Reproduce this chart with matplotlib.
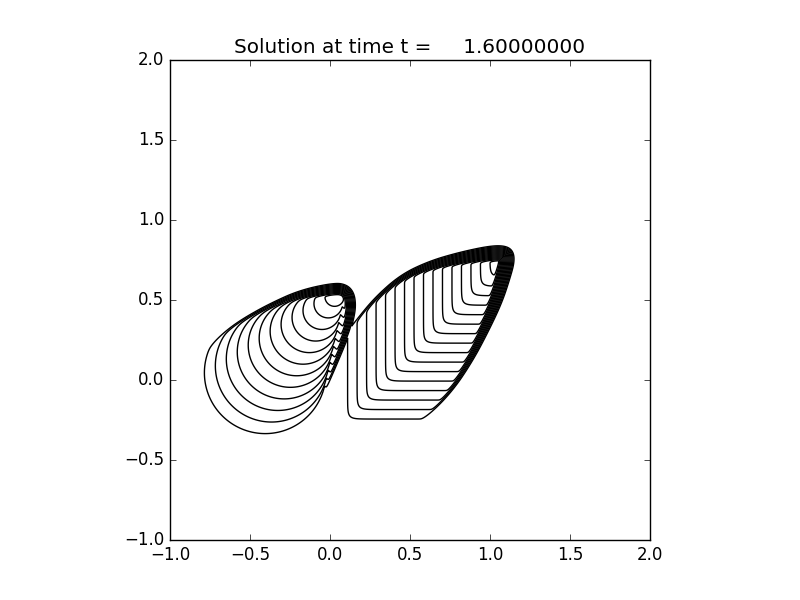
import numpy as np
import matplotlib
matplotlib.use("Agg")
import matplotlib.pyplot as plt

plt.style.use("classic")

# ---------------- chart text / axes ----------------
title_text = "Solution at time t =     1.60000000"
x_limits = (-1.0, 2.0)
y_limits = (-1.0, 2.0)
tick_values = [-1.0, -0.5, 0.0, 0.5, 1.0, 1.5, 2.0]
contour_levels = list(range(1, 17))

# ---------------- left lobe (deformed cone) ----------------
cone_apex = (0.11, 0.61)          # apex of the wedge the contours shrink into
cone_outer_center = (-0.405, 0.045) # outermost contour: circle centre
cone_outer_radius = 0.38
cone_level_step = 0.0585          # distance along the wedge per level
cone_cap = 12.5
left_edge_x = [-0.20, -0.08, 0.12, 0.155, 0.168, 0.155, 0.11, 0.03, -0.19, -0.375, -0.53, -0.64, -0.74, -0.84]
left_edge_y = [-0.45, -0.20, 0.26, 0.38, 0.47, 0.55, 0.60, 0.615, 0.568, 0.485, 0.40, 0.325, 0.235, 0.11]

# ---------------- right lobe (deformed square) ----------------
square_corner = (0.11, -0.244)    # outer contour's vertical / horizontal sides
square_step = (0.0593, 0.0593)    # spacing of successive contour sides
right_edge_x = [0.45, 0.606, 0.77, 0.90, 1.00, 1.08, 1.13, 1.16, 1.15, 1.10, 1.00, 0.81, 0.62, 0.44, 0.28, 0.16, 0.06]
right_edge_y = [-0.33, -0.24, -0.075, 0.12, 0.31, 0.48, 0.63, 0.74, 0.81, 0.845, 0.845, 0.805, 0.75, 0.665, 0.525, 0.38, 0.25]

edge_sharpness = 160.0   # levels per unit distance across the steep edges
corner_softness = 0.4


def chaikin(px, py, n):
    P = np.column_stack([px, py]).astype(float)
    for _ in range(n):
        Q = 0.75 * P[:-1] + 0.25 * P[1:]
        R = 0.25 * P[:-1] + 0.75 * P[1:]
        new = np.empty((2 * len(Q), 2))
        new[0::2] = Q
        new[1::2] = R
        P = np.vstack([P[0], new, P[-1]])
    return P[:, 0], P[:, 1]


def softmin(arrs, tau):
    m = np.minimum.reduce(arrs)
    s = np.zeros_like(m)
    for a in arrs:
        s += np.exp(-(a - m) / tau)
    return m - tau * np.log(s)


def chain_distance(X, Y, px, py):
    d = None
    for i in range(len(px) - 1):
        dx = px[i + 1] - px[i]
        dy = py[i + 1] - py[i]
        L = np.hypot(dx, dy)
        if L < 1e-9:
            continue
        nx, ny = -dy / L, dx / L
        di = nx * (X - px[i]) + ny * (Y - py[i])
        d = di if d is None else np.minimum(d, di)
    return d


xs = np.arange(-1.0, 1.45, 0.0015)
ys = np.arange(-0.65, 1.05, 0.0015)
X, Y = np.meshgrid(xs, ys)

# cone field: family of circles inscribed in a wedge, shrinking to its apex
Dx = cone_outer_center[0] - cone_apex[0]
Dy = cone_outer_center[1] - cone_apex[1]
s1 = np.hypot(Dx, Dy)
ex, ey = Dx / s1, Dy / s1
sin_a = cone_outer_radius / s1
cos2 = 1 - sin_a ** 2
Yx, Yy = X - cone_apex[0], Y - cone_apex[1]
ye = Yx * ex + Yy * ey
disc = np.maximum(ye ** 2 - cos2 * (Yx ** 2 + Yy ** 2), 0.0)
s = (ye - np.sqrt(disc)) / cos2
cone = np.minimum(1 + (s1 - s) / cone_level_step, cone_cap)
lx, ly = chaikin(left_edge_x, left_edge_y, 4)
dL = chain_distance(X, Y, lx, ly)
fL = softmin([cone, edge_sharpness * dL], corner_softness)

# square field
rampx = 1 + (X - square_corner[0]) / square_step[0]
rampy = 1 + (Y - square_corner[1]) / square_step[1]
rx, ry = chaikin(right_edge_x, right_edge_y, 4)
dR = chain_distance(X, Y, rx, ry)
fR = softmin([rampx, rampy, edge_sharpness * dR], corner_softness)

F = np.maximum(fL, fR)

fig = plt.figure(figsize=(8, 6), dpi=100, facecolor="white")
ax = fig.add_subplot(111)
ax.contour(X, Y, F, levels=contour_levels, colors="k", linewidths=1.0)
ax.set_xlim(*x_limits)
ax.set_ylim(*y_limits)
ax.set_xticks(tick_values)
ax.set_yticks(tick_values)
ax.set_aspect("equal")
ax.set_title(title_text)
fig.savefig("out.png", dpi=100, facecolor="white")
